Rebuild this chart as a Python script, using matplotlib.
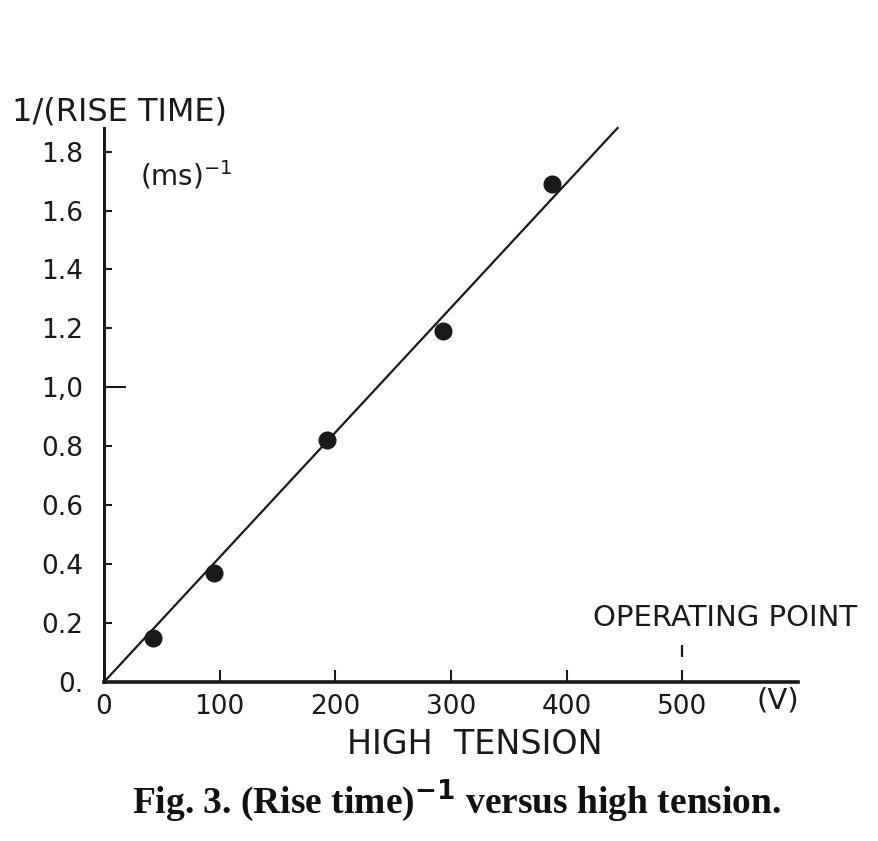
import matplotlib
matplotlib.use("Agg")
import matplotlib.pyplot as plt

# Data
voltage = [42, 95, 193, 293, 387]
inv_rise_time = [0.15, 0.37, 0.82, 1.19, 1.69]
fit_voltage = [0, 444]
fit_inv_rise = [0, 1.88]
x_ticks = [0, 100, 200, 300, 400, 500]
x_tick_labels = ["0", "100", "200", "300", "400", "500"]
y_ticks = [0, 0.2, 0.4, 0.6, 0.8, 1.0, 1.2, 1.4, 1.6, 1.8]
y_tick_labels = ["0.", "0.2", "0.4", "0.6", "0.8", "1,0", "1.2", "1.4", "1.6", "1.8"]
operating_point = 500

W, H = 879, 841
fig = plt.figure(figsize=(W / 100, H / 100), dpi=100)
fig.patch.set_facecolor("white")

ax = fig.add_axes([104 / W, 1 - 682 / H, 694 / W, (682 - 128) / H])
ax.set_xlim(0, 600)
ax.set_ylim(0, 1.88)

ink = "#1a1a1a"
ax.plot(fit_voltage, fit_inv_rise, color=ink, lw=1.6, clip_on=False, zorder=3)
ax.plot(voltage, inv_rise_time, "o", color=ink, ms=12, zorder=4, clip_on=False)

for s in ["top", "right"]:
    ax.spines[s].set_visible(False)
ax.spines["left"].set_linewidth(2.2)
ax.spines["bottom"].set_linewidth(2.6)
ax.spines["left"].set_color(ink)
ax.spines["bottom"].set_color(ink)

ax.set_xticks(x_ticks)
ax.set_xticklabels(x_tick_labels)
ax.set_yticks(y_ticks)
ax.set_yticklabels(y_tick_labels)
ax.tick_params(axis="x", direction="in", length=9, width=1.5, pad=9,
               labelsize=19, colors=ink)
ax.tick_params(axis="y", direction="in", length=6, width=1.5, pad=15,
               labelsize=19, colors=ink)
ax.yaxis.get_major_ticks()[5].tick1line.set_markersize(16)
ax.yaxis.get_major_ticks()[0].tick1line.set_visible(False)
ax.xaxis.get_major_ticks()[0].tick1line.set_visible(False)

txt = dict(color=ink, family="DejaVu Sans")
fig.text(12 / W, 1 - 112 / H, "1/(RISE TIME)", fontsize=23, va="center", ha="left", **txt)
fig.text(140 / W, 1 - 175 / H, "(ms)$^{-1}$", fontsize=20, va="center", ha="left", **txt)
fig.text(725 / W, 1 - 618 / H, "OPERATING POINT", fontsize=21, va="center", ha="center", **txt)
fig.text(778 / W, 1 - 701 / H, "(V)", fontsize=21, va="center", ha="center", **txt)
fig.text(475 / W, 1 - 745 / H, "HIGH  TENSION", fontsize=24, va="center", ha="center", **txt)

ax.vlines(operating_point, 0.085, 0.125, color=ink, lw=1.6)

fig.text(457 / W, 1 - 801 / H, "Fig. 3. (Rise time)$^{\\mathbf{-1}}$ versus high tension.",
         fontsize=27, va="center", ha="center", color="#111111",
         family="Liberation Serif", weight="bold")

fig.savefig("out.png", dpi=100, facecolor="white")
